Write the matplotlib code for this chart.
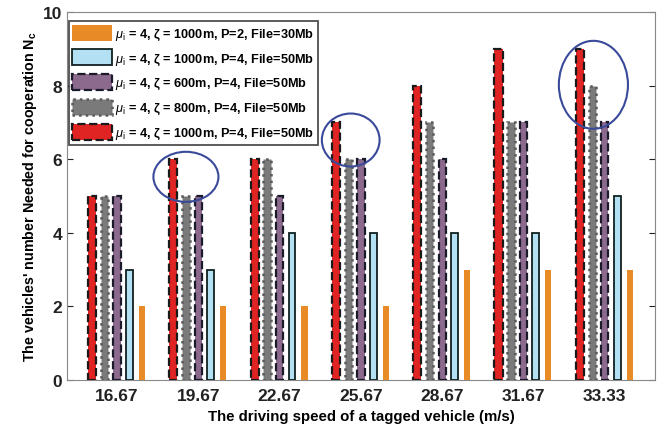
import numpy as np
import matplotlib
matplotlib.use("Agg")
import matplotlib.pyplot as plt
from matplotlib.patches import Ellipse

plt.rcParams['font.family'] = ['Liberation Sans', 'DejaVu Sans']
plt.rcParams['mathtext.fontset'] = 'custom'
plt.rcParams['mathtext.rm'] = 'Liberation Sans'
plt.rcParams['mathtext.it'] = 'Liberation Sans:italic'
plt.rcParams['mathtext.bf'] = 'Liberation Sans:bold'

speeds = ["16.67", "19.67", "22.67", "25.67", "28.67", "31.67", "33.33"]
red_1000_p4 = [5, 6, 6, 7, 8, 9, 9]
gray_800_p4 = [5, 5, 6, 6, 7, 7, 8]
purple_600_p4 = [5, 5, 5, 6, 6, 7, 7]
blue_1000_p4 = [3, 3, 4, 4, 4, 4, 5]
orange_1000_p2 = [2, 2, 2, 2, 3, 3, 3]

x = np.arange(1, len(speeds) + 1)

fig = plt.figure(figsize=(6.64, 4.31), dpi=100)
ax = fig.add_axes([0.101, 0.116, 0.885, 0.854])

b_red = ax.bar(x - 0.307, red_1000_p4, 0.10, color='#e02424', edgecolor='#1a1a1a',
               linestyle='--', linewidth=1.6, zorder=3)
b_gray = ax.bar(x - 0.153, gray_800_p4, 0.09, color='#7a7a7a', edgecolor='#5a5a5a',
                linestyle=':', linewidth=1.8, zorder=3)
b_purple = ax.bar(x, purple_600_p4, 0.09, color='#8c6a8e', edgecolor='#1a1a2a',
                  linestyle='--', linewidth=1.6, zorder=3)
b_blue = ax.bar(x + 0.153, blue_1000_p4, 0.085, color='#b3e0f2', edgecolor='#102020',
                linewidth=1.3, zorder=3)
b_orange = ax.bar(x + 0.307, orange_1000_p2, 0.075, color='#e88a25', edgecolor='none',
                  zorder=3)

# annotation ellipses
for cx, cy, w, h in [(1.848, 5.52, 0.80, 1.36), (3.875, 6.52, 0.71, 1.44), (6.86, 8.02, 0.85, 2.39)]:
    ax.add_patch(Ellipse((cx, cy), w, h, fill=False, edgecolor='#3a4a9a', linewidth=1.5, zorder=4))

mu = r"$\mu_\mathrm{i}$"
labels = [mu + " = 4, ζ = 1000m, P=2, File=30Mb",
          mu + " = 4, ζ = 1000m, P=4, File=50Mb",
          mu + " = 4, ζ = 600m, P=4, File=50Mb",
          mu + " = 4, ζ = 800m, P=4, File=50Mb",
          mu + " = 4, ζ = 1000m, P=4, File=50Mb"]
leg = ax.legend([b_orange, b_blue, b_purple, b_gray, b_red], labels, loc='upper left',
                bbox_to_anchor=(-0.006, 0.99), prop={'weight': 'bold', 'size': 9.2},
                frameon=True, fancybox=False, edgecolor='#222222', handlelength=3.1,
                handleheight=1.55, borderpad=0.3, labelspacing=0.6, handletextpad=0.2,
                borderaxespad=0.4)
leg.get_frame().set_linewidth(1.3)

ax.set_xlim(0.386, 7.614)
ax.set_ylim(0, 10)
ax.set_xticks(x)
ax.set_xticklabels(speeds)
ax.set_yticks([0, 2, 4, 6, 8, 10])
ax.tick_params(direction='in', top=False, right=True, labelsize=12.5, length=4, colors='#222222')
ax.tick_params(axis='x', pad=6)
for t in ax.get_xticklabels() + ax.get_yticklabels():
    t.set_fontweight('bold')
for s in ax.spines.values():
    s.set_color('#888888')
ax.set_xlabel("The driving speed of a tagged vehicle (m/s)", fontsize=10.8, fontweight='bold', labelpad=4)
ax.set_ylabel("The vehicles' number Needed for cooperation N$_\\mathbf{c}$", fontsize=10.3,
              fontweight='bold', labelpad=3)

fig.savefig("out.png", dpi=100)
